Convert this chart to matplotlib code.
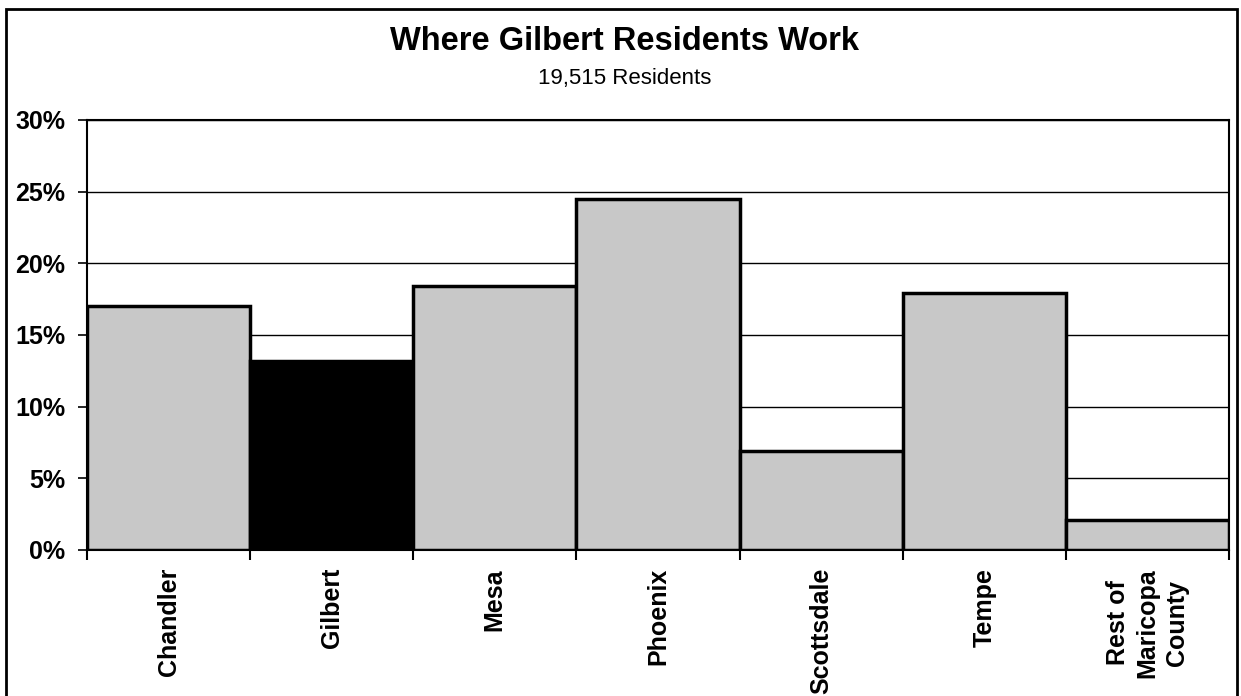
import matplotlib.pyplot as plt
from matplotlib.patches import Rectangle
from matplotlib.ticker import FixedLocator, PercentFormatter

# where residents work, percent of 19,515
places = ['Chandler', 'Gilbert', 'Mesa', 'Phoenix', 'Scottsdale', 'Tempe',
          'Rest of\nMaricopa\nCounty']
shares = [17.0, 13.2, 18.4, 24.5, 6.9, 17.9, 2.1]
bar_colors = ['#c8c8c8', '#000000', '#c8c8c8', '#c8c8c8', '#c8c8c8', '#c8c8c8', '#c8c8c8']

plt.rcParams['font.family'] = ['Liberation Sans', 'DejaVu Sans']

fig = plt.figure(figsize=(12.41, 6.96), dpi=100)
ax = fig.add_axes([0.0701, 0.2098, 0.9202, 0.6178])

x = range(len(places))
ax.bar(x, shares, width=1.0, color=bar_colors, edgecolor='black', linewidth=2.5, zorder=3)

ax.set_xlim(-0.5, len(places) - 0.5)
ax.set_ylim(0, 30)
ax.set_yticks([0, 5, 10, 15, 20, 25, 30])
ax.yaxis.set_major_formatter(PercentFormatter(decimals=0))
ax.grid(axis='y', color='black', linewidth=1.0, zorder=0)

ax.set_xticks(list(x))
ax.set_xticklabels(places, rotation=90, fontsize=18, fontweight='bold', va='top', ha='center',
                   multialignment='center', linespacing=1.3)
ax.tick_params(axis='x', which='major', length=0, pad=13)
ax.xaxis.set_minor_locator(FixedLocator([i + 0.5 for i in range(-1, len(places))]))
ax.tick_params(axis='x', which='minor', length=7, width=1.5, direction='out')
ax.tick_params(axis='y', length=6.5, width=1.2, labelsize=18, pad=9)
for lab in ax.get_yticklabels():
    lab.set_fontweight('bold')

for s in ax.spines.values():
    s.set_linewidth(1.5)
    s.set_color('black')

fig.text(0.503, 0.928, 'Where Gilbert Residents Work', ha='center', va='baseline',
         fontsize=23.5, fontweight='bold')
fig.text(0.503, 0.879, '19,515 Residents', ha='center', va='baseline', fontsize=16)

# outer chart frame
fig.patches.append(Rectangle((6 / 1241, -0.05), 1231 / 1241, 1.05 - 9 / 696,
                             transform=fig.transFigure, fill=False,
                             edgecolor='black', linewidth=2))

fig.savefig('out.png', dpi=100)
